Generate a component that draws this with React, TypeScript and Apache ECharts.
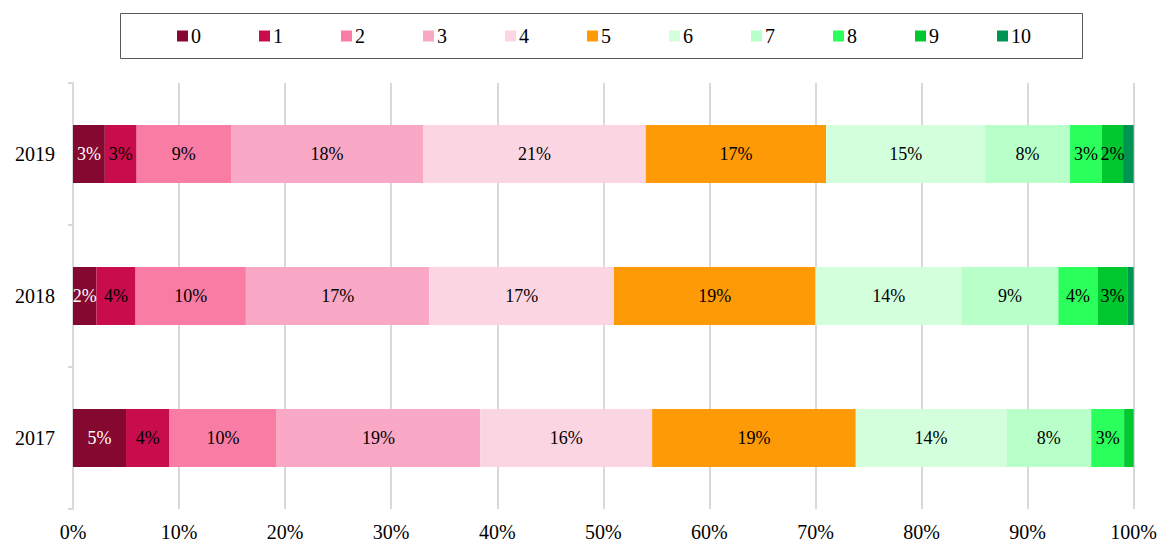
import React, { useEffect, useRef } from "react";
import * as echarts from "echarts";

const categories = ["2017", "2018", "2019"];
const seriesNames = ["0", "1", "2", "3", "4", "5", "6", "7", "8", "9", "10"];
const colors = ["#84082F", "#C80C4C", "#F97CA5", "#F9A8C5", "#FCD5E3", "#FE9A06", "#D3FFDC", "#B9FFC9", "#2AFF5C", "#00C82E", "#009452"];
// values per year, in percent, index = series
const values2017 = [5.0, 4.1, 10.1, 19.2, 16.2, 19.2, 14.2, 8.0, 3.1, 0.9, 0];
const values2018 = [2.2, 3.7, 10.4, 17.3, 17.4, 19.0, 13.8, 9.1, 3.7, 2.8, 0.6];
const values2019 = [3.0, 3.0, 8.9, 18.1, 21.0, 17.0, 15.0, 8.0, 3.0, 2.0, 1.0];
const xTicks = [0, 10, 20, 30, 40, 50, 60, 70, 80, 90, 100];

const FONT = "'Liberation Serif', 'Times New Roman', serif";

export default function App() {
  const ref = useRef<HTMLDivElement>(null);
  useEffect(() => {
    if (!ref.current) return;
    const chart = echarts.init(ref.current, null, { renderer: "svg" });
    const byYear = [values2017, values2018, values2019];
    const series = seriesNames.map((name, i) => ({
      name,
      type: "bar",
      stack: "total",
      barWidth: 58,
      itemStyle: { color: colors[i] },
      label: {
        show: true,
        position: "inside",
        fontFamily: FONT,
        fontSize: 18,
        color: i === 0 ? "#ffffff" : "#000000",
        formatter: (p: any) => (p.value >= 1.5 ? Math.round(p.value) + "%" : ""),
      },
      data: byYear.map((v) => v[i]),
    }));
    chart.setOption({
      animation: false,
      textStyle: { fontFamily: FONT },
      graphic: [
        {
          type: "rect",
          shape: { x: 120.5, y: 13.5, width: 962, height: 45 },
          style: { fill: "none", stroke: "#595959", lineWidth: 1 },
          silent: true,
        },
      ],
      legend: {
        data: seriesNames,
        left: 177,
        top: 26,
        padding: 0,
        itemWidth: 11,
        itemHeight: 11,
        itemGap: 18,
        icon: "rect",
        selectedMode: false,
        textStyle: { fontFamily: FONT, fontSize: 20, color: "#000", width: 50, lineHeight: 20, padding: [0, 0, 0, -2] },
      },
      grid: { left: 73, right: 24, top: 83, bottom: 33, containLabel: false },
      xAxis: {
        type: "value",
        min: 0,
        max: 100,
        interval: 10,
        axisLine: { show: false },
        axisTick: { show: false },
        splitLine: { show: true, lineStyle: { color: "#D9D9D9", width: 2 } },
        axisLabel: {
          fontFamily: FONT,
          fontSize: 20,
          color: "#000",
          margin: 13,
          formatter: (v: number) => (xTicks.includes(v) ? v + "%" : ""),
        },
      },
      yAxis: {
        type: "category",
        data: categories,
        axisLine: { show: true, lineStyle: { color: "#D9D9D9", width: 2 } },
        axisTick: { show: true, length: 5, lineStyle: { color: "#D9D9D9", width: 2 } },
        axisLabel: { fontFamily: FONT, fontSize: 20, color: "#000", margin: 18 },
      },
      series,
    });
    return () => chart.dispose();
  }, []);
  return <div ref={ref} style={{ width: 1160, height: 542, position: "absolute", left: 0, top: 0 }} />;
}
